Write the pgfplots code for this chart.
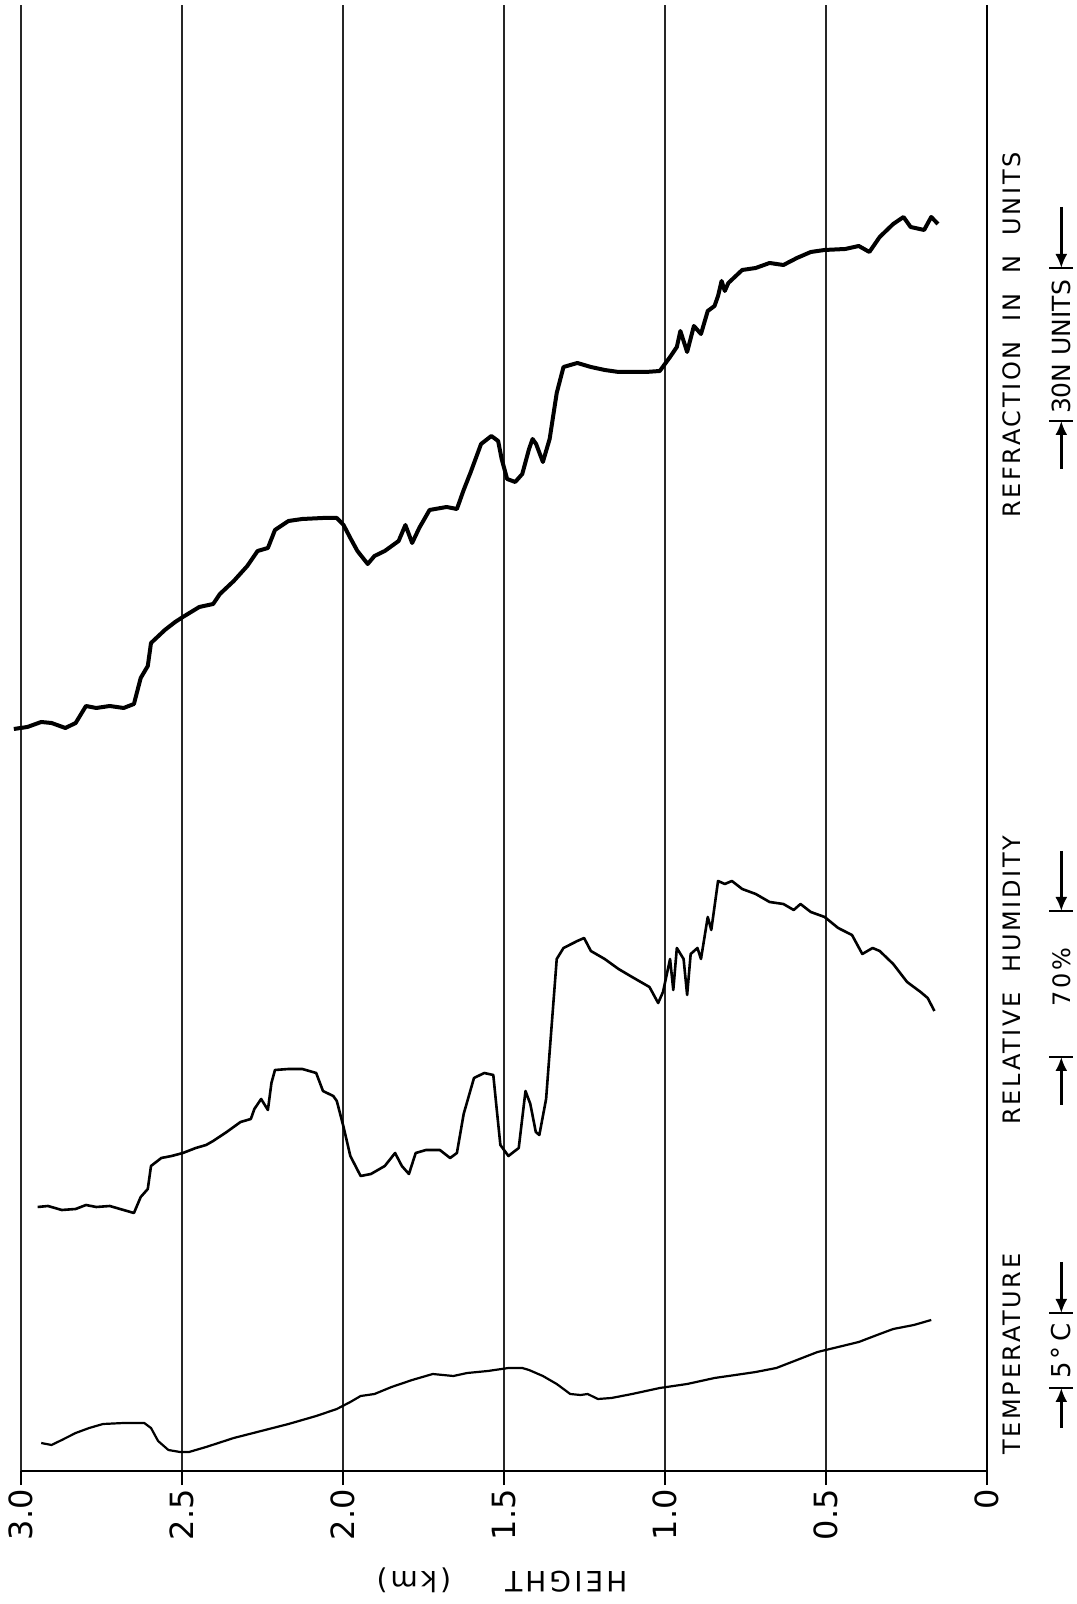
\documentclass[border=0pt]{standalone}
\usepackage{fontspec}
\setmainfont{DejaVu Sans}
\newfontfamily\lett[LetterSpace=11]{DejaVu Sans}
\usepackage{pgfplots}
\pgfplotsset{compat=1.18}
\usetikzlibrary{arrows.meta}

\begin{document}
\begin{tikzpicture}
\begin{axis}[
  scale only axis, width=483pt, height=733pt,
  xmin=0, xmax=3, x dir=reverse,
  ymin=0, ymax=1466,
  clip=false,
  axis line style={draw=none},
  xtick={0,0.5,1,1.5,2,2.5,3},
  xticklabels={0,0.5,1.0,1.5,2.0,2.5,3.0},
  ytick=\empty,
  xmajorgrids, grid style={line width=0.7pt, black!85},
  xtick pos=lower, tick align=outside, major tick length=7pt,
  tick style={line width=0.9pt, black},
  xticklabel style={rotate=90, anchor=east, font=\fontsize{16}{16}\selectfont, inner sep=2pt},
]
% Temperature
\addplot[black, line width=1.1pt, line join=round] coordinates {
(2.937,28) (2.905,26) (2.873,31) (2.830,38) (2.788,43) (2.745,47) (2.681,48) (2.617,48)
(2.596,43) (2.574,30) (2.542,21) (2.506,19) (2.478,19) (2.425,24) (2.339,33) (2.254,40)
(2.169,47) (2.083,55) (2.019,62) (1.977,69) (1.945,75) (1.902,77) (1.849,84) (1.785,91)
(1.721,97) (1.657,95) (1.614,98) (1.550,100) (1.486,103) (1.443,103) (1.422,101) (1.379,95)
(1.336,87) (1.294,77) (1.262,76) (1.240,77) (1.208,72) (1.166,73) (1.102,77) (1.016,83)
(0.931,87) (0.846,93) (0.760,97) (0.718,99) (0.654,103) (0.590,111) (0.526,119) (0.462,124)
(0.398,129) (0.333,137) (0.291,142) (0.227,146) (0.173,151)
};
% Relative humidity
\addplot[black, line width=1.3pt, line join=round] coordinates {
(2.948,264) (2.916,265) (2.873,261) (2.830,262) (2.798,266) (2.766,264) (2.724,265) (2.692,262)
(2.649,258) (2.628,274) (2.606,282) (2.596,305) (2.564,313) (2.532,315) (2.497,318) (2.457,323)
(2.425,326) (2.403,330) (2.361,339) (2.318,349) (2.286,352) (2.275,362) (2.254,372) (2.233,361)
(2.222,388) (2.211,401) (2.169,402) (2.126,402) (2.083,398) (2.062,380) (2.030,375) (2.019,370)
(1.998,344) (1.977,315) (1.945,295) (1.913,297) (1.870,305) (1.838,318) (1.817,305) (1.795,297)
(1.774,318) (1.742,321) (1.699,321) (1.667,313) (1.646,318) (1.625,357) (1.593,393) (1.561,398)
(1.533,396) (1.524,367) (1.511,326) (1.486,315) (1.454,323) (1.433,380) (1.418,367) (1.401,339)
(1.390,336) (1.369,372) (1.358,419) (1.336,512) (1.315,523) (1.272,530) (1.251,533) (1.230,520)
(1.187,512) (1.144,502) (1.102,494) (1.048,484) (1.021,468) (1.006,479) (0.984,512) (0.974,481)
(0.963,523) (0.942,512) (0.931,476) (0.920,517) (0.899,523) (0.888,512) (0.867,554) (0.856,541)
(0.835,590) (0.814,587) (0.792,590) (0.760,582) (0.718,577) (0.675,569) (0.632,567) (0.600,561)
(0.579,567) (0.547,559) (0.504,554) (0.462,543) (0.419,536) (0.387,517) (0.355,523) (0.333,520)
(0.291,507) (0.248,489) (0.206,479) (0.184,473) (0.163,460)
};
% Refraction
\addplot[black, line width=2pt, line join=round] coordinates {
(3.022,742) (2.980,744) (2.937,749) (2.905,748) (2.862,743) (2.830,748) (2.798,765) (2.766,763)
(2.724,765) (2.681,763) (2.649,767) (2.628,793) (2.606,805) (2.596,828) (2.553,841) (2.521,849)
(2.497,854) (2.446,864) (2.403,867) (2.382,877) (2.339,890) (2.297,905) (2.265,920) (2.233,923)
(2.211,941) (2.169,950) (2.126,952) (2.062,953) (2.019,953) (1.998,946) (1.977,933) (1.955,920)
(1.923,907) (1.902,915) (1.870,920) (1.827,930) (1.806,946) (1.785,928) (1.763,943) (1.731,961)
(1.678,964) (1.646,962) (1.625,981) (1.603,999) (1.571,1027) (1.539,1035) (1.518,1030) (1.507,1012)
(1.490,992) (1.465,989) (1.443,997) (1.422,1022) (1.411,1032) (1.400,1027) (1.379,1009) (1.358,1032)
(1.336,1078) (1.315,1104) (1.272,1108) (1.230,1104) (1.187,1101) (1.144,1099) (1.059,1099) (1.016,1100)
(0.984,1114) (0.963,1124) (0.952,1140) (0.931,1119) (0.910,1145) (0.888,1137) (0.867,1160) (0.846,1165)
(0.835,1175) (0.824,1190) (0.814,1180) (0.803,1188) (0.760,1201) (0.718,1203) (0.675,1208) (0.632,1206)
(0.590,1213) (0.547,1219) (0.504,1221) (0.440,1222) (0.398,1225) (0.365,1219) (0.333,1234) (0.291,1247)
(0.259,1254) (0.237,1244) (0.195,1241) (0.173,1254) (0.152,1247)
};
% axis lines
\draw[line width=1pt] (axis cs:3,0) -- (axis cs:0,0) -- (axis cs:0,1466);
% labels
\node[rotate=180, font=\lett\fontsize{14}{14}\selectfont] at (axis cs:1.506,-109) {HEIGHT\hspace{27pt}(km)};
\node[rotate=90, font=\lett\fontsize{12}{12}\selectfont] at (axis cs:-0.078,117) {TEMPERATURE};
\node[rotate=90, font=\lett\fontsize{12}{12}\selectfont] at (axis cs:-0.078,491) {RELATIVE\hspace{10pt}HUMIDITY};
\node[rotate=90, font=\lett\fontsize{12}{12}\selectfont] at (axis cs:-0.078,1136) {REFRACTION\hspace{10pt}IN\hspace{10pt}N\hspace{10pt}UNITS};
% scale indicators
\node[rotate=90, font=\lett\fontsize{13}{13}\selectfont] at (axis cs:-0.231,120) {5°\,C};
\node[rotate=90, font=\lett\fontsize{12}{12}\selectfont] at (axis cs:-0.231,494) {70\%};
\node[rotate=90, font=\fontsize{12.5}{12.5}\selectfont] at (axis cs:-0.231,1124) {30N UNITS};
\tikzset{dimarr/.style={line width=1.2pt, -{Latex[length=7pt,width=6pt]}}}
\draw[dimarr] (axis cs:-0.231,43) -- (axis cs:-0.231,83);
\draw[dimarr] (axis cs:-0.231,209) -- (axis cs:-0.231,158);
\draw[dimarr] (axis cs:-0.231,366) -- (axis cs:-0.231,414);
\draw[dimarr] (axis cs:-0.231,620) -- (axis cs:-0.231,560);
\draw[dimarr] (axis cs:-0.231,1002) -- (axis cs:-0.231,1050);
\draw[dimarr] (axis cs:-0.231,1264) -- (axis cs:-0.231,1203);
\draw[line width=1.1pt] ([xshift=-6pt]axis cs:-0.231,83) -- ([xshift=6pt]axis cs:-0.231,83);
\draw[line width=1.1pt] ([xshift=-6pt]axis cs:-0.231,158) -- ([xshift=6pt]axis cs:-0.231,158);
\draw[line width=1.1pt] ([xshift=-6pt]axis cs:-0.231,414) -- ([xshift=6pt]axis cs:-0.231,414);
\draw[line width=1.1pt] ([xshift=-6pt]axis cs:-0.231,560) -- ([xshift=6pt]axis cs:-0.231,560);
\draw[line width=1.1pt] ([xshift=-6pt]axis cs:-0.231,1050) -- ([xshift=6pt]axis cs:-0.231,1050);
\draw[line width=1.1pt] ([xshift=-6pt]axis cs:-0.231,1203) -- ([xshift=6pt]axis cs:-0.231,1203);
\coordinate (bbsw) at (axis cs:3.065,-133);
\coordinate (bbne) at (axis cs:-0.2795,1471);
\end{axis}
\pgfresetboundingbox
\path[use as bounding box] (bbsw) rectangle (bbne);
\end{tikzpicture}
\end{document}
